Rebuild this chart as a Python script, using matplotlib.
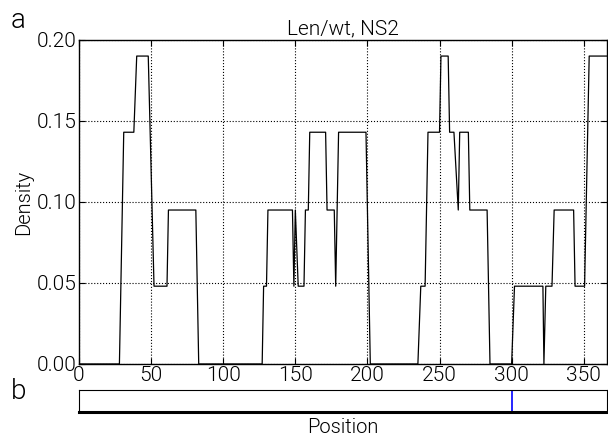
import matplotlib
matplotlib.use("Agg")
import matplotlib.pyplot as plt

# vertices of the sliding-window density curve
positions = [0, 28, 31, 38, 40, 48, 52, 61, 62, 81, 83,
             127, 128, 130, 131, 148, 149, 150, 152, 156, 157, 159, 160,
             171, 172, 177, 178, 180, 199, 202,
             235, 237, 240, 242, 250, 251, 256, 257, 260, 263, 264, 270,
             271, 283, 285,
             300, 302, 321.7, 322.4, 323.7, 328, 329.5, 343, 344, 350.6,
             353.8, 366]
density = [0, 0, 0.143, 0.143, 0.190, 0.190, 0.048, 0.048, 0.095, 0.095, 0,
           0, 0.048, 0.048, 0.095, 0.095, 0.048, 0.095, 0.048, 0.048, 0.095,
           0.095, 0.143,
           0.143, 0.095, 0.095, 0.048, 0.143, 0.143, 0,
           0, 0.048, 0.048, 0.143, 0.143, 0.190, 0.190, 0.143, 0.143, 0.095,
           0.143, 0.143,
           0.095, 0.095, 0,
           0, 0.048, 0.048, 0, 0.048, 0.048, 0.095, 0.095, 0.048, 0.048,
           0.190, 0.190]

seq_len = 366
marked_sites = [300]
xticks = [0, 50, 100, 150, 200, 250, 300, 350]
yticks = [0.00, 0.05, 0.10, 0.15, 0.20]

plt.rcParams["font.family"] = ["Roboto", "DejaVu Sans"]
plt.rcParams["font.weight"] = 300
plt.rcParams["axes.titleweight"] = 300
plt.rcParams["axes.labelweight"] = 300

fig = plt.figure(figsize=(6.08, 4.38), dpi=100)

ax = fig.add_axes([0.130, 0.169, 0.868, 0.740])
ax.plot(positions, density, color="k", lw=0.9)
ax.set_xlim(0, seq_len)
ax.set_ylim(0, 0.2)
ax.set_xticks(xticks)
ax.set_yticks(yticks)
ax.set_yticklabels([f"{v:.2f}" for v in yticks])
ax.grid(True, color="k", linestyle=":", lw=0.8)
ax.tick_params(direction="in", labelsize=15, pad=1.5, top=True, right=True,
               length=4)
ax.set_ylabel("Density", fontsize=14.5, labelpad=3)
ax.set_title("Len/wt, NS2", fontsize=15, pad=4)
for s in ax.spines.values():
    s.set_linewidth(1.0)

strip = fig.add_axes([0.130, 0.0594, 0.868, 0.0502])
strip.set_xlim(0, seq_len)
strip.set_ylim(0, 1)
for site in marked_sites:
    strip.axvline(site, color="blue", lw=1.2)
strip.set_xticks([])
strip.set_yticks([])
strip.spines["bottom"].set_linewidth(2.2)
strip.set_xlabel("Position", fontsize=14.5, labelpad=4)

fig.text(0.018, 0.985, "a", fontsize=20, va="top", ha="left")
fig.text(0.018, 0.138, "b", fontsize=20, va="top", ha="left")

fig.savefig("out.png", dpi=100)
